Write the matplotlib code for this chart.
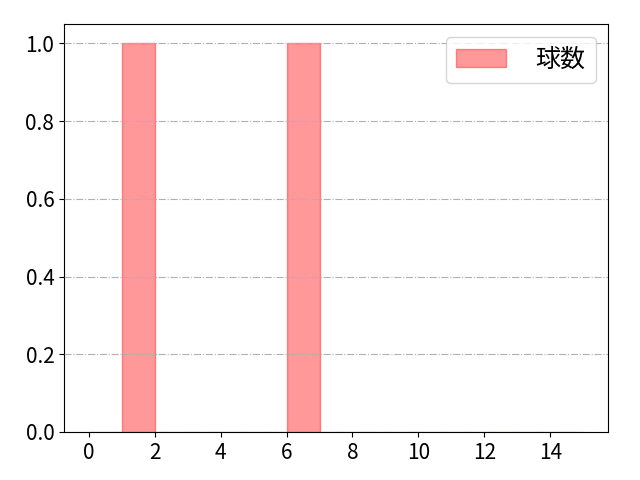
import matplotlib
matplotlib.use("Agg")
import matplotlib.pyplot as plt
import numpy as np

plt.rcParams['font.family'] = ['Noto Sans CJK JP', 'DejaVu Sans']
plt.rcParams['font.size'] = 16

# pitch counts per bin
values = [1, 6]
bins = list(range(0, 16))
xticks = list(range(0, 16, 2))
label = "球数"

fig, ax = plt.subplots(figsize=(6.4, 4.8), dpi=100)
ax.hist(values, bins=bins, color="red", alpha=0.4, edgecolor="red", label=label)
ax.grid(axis="y", linestyle="-.")
ax.set_axisbelow(False)
ax.set_xticks(xticks)
ax.tick_params(labelsize=15)
ax.legend(fontsize=18, handletextpad=1.2)
fig.subplots_adjust(left=0.1, right=0.95, top=0.95, bottom=0.1)
fig.savefig("out.png")
